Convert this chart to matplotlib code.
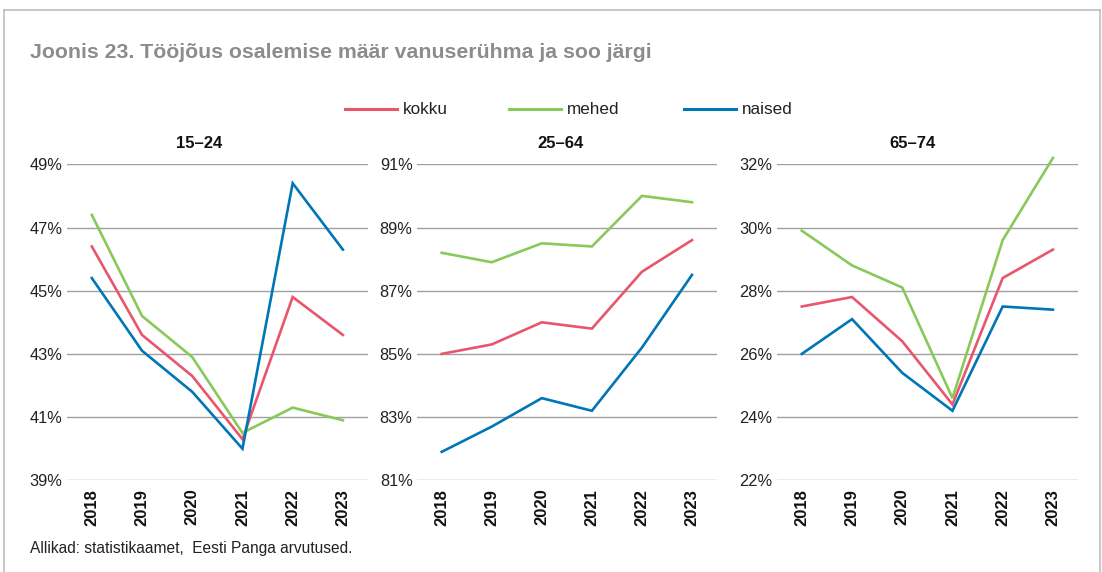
import matplotlib
matplotlib.use("Agg")
import matplotlib.pyplot as plt
from matplotlib.lines import Line2D

plt.rcParams['font.family'] = ['Liberation Sans', 'DejaVu Sans']

years = ["2018", "2019", "2020", "2021", "2022", "2023"]
series_names = ["kokku", "mehed", "naised"]
colors = ["#E8566C", "#88C95A", "#0076B6"]

panel_titles = ["15–24", "25–64", "65–74"]

# 15-24
young_kokku = [46.4, 43.6, 42.3, 40.3, 44.8, 43.6]
young_mehed = [47.4, 44.2, 42.9, 40.5, 41.3, 40.9]
young_naised = [45.4, 43.1, 41.8, 40.0, 48.4, 46.3]

# 25-64
mid_kokku = [85.0, 85.3, 86.0, 85.8, 87.6, 88.6]
mid_mehed = [88.2, 87.9, 88.5, 88.4, 90.0, 89.8]
mid_naised = [81.9, 82.7, 83.6, 83.2, 85.2, 87.5]

# 65-74
old_kokku = [27.5, 27.8, 26.4, 24.4, 28.4, 29.3]
old_mehed = [29.9, 28.8, 28.1, 24.6, 29.6, 32.2]
old_naised = [26.0, 27.1, 25.4, 24.2, 27.5, 27.4]

y_ticks = [
    [39, 41, 43, 45, 47, 49],
    [81, 83, 85, 87, 89, 91],
    [22, 24, 26, 28, 30, 32],
]

panels = [
    [young_kokku, young_mehed, young_naised],
    [mid_kokku, mid_mehed, mid_naised],
    [old_kokku, old_mehed, old_naised],
]

fig = plt.figure(figsize=(11.02, 5.72), dpi=100)
W, H = 1102, 572

def px(x, y):
    return x / W, 1 - y / H

# frame around the figure
frame = dict(transform=fig.transFigure, color="#bdbdbd", lw=1.2)
fig.add_artist(Line2D([4 / W, 4 / W], [0, 1 - 9.5 / H], **frame))
fig.add_artist(Line2D([4 / W, 1100 / W], [1 - 9.5 / H, 1 - 9.5 / H], **frame))
fig.add_artist(Line2D([1100 / W, 1100 / W], [0, 1 - 9.5 / H], **frame))

fig.text(*px(30, 53), "Joonis 23. Tööjõus osalemise määr vanuserühma ja soo järgi",
         fontsize=15.3, fontweight="bold", color="#8c8c8c", ha="left", va="center")

lefts = [66.7, 416.7, 776.7]
rights = [368, 717, 1078]
top, bottom = 164.3, 480.3
title_x = [199, 561, 912]

for i, data in enumerate(panels):
    ax = fig.add_axes([lefts[i] / W, 1 - bottom / H, (rights[i] - lefts[i]) / W, (bottom - top) / H])
    x = range(len(years))
    for vals, c in zip(data, colors):
        ax.plot(x, vals, color=c, lw=1.9, solid_joinstyle="miter", clip_on=False)
    ax.set_xlim(-0.5, len(years) - 0.5)
    ax.set_ylim(y_ticks[i][0], y_ticks[i][-1])
    ax.set_yticks(y_ticks[i])
    ax.set_yticklabels([f"{t}%" for t in y_ticks[i]], fontsize=11.8, color="#222222")
    ax.set_xticks(list(x))
    ax.set_xticklabels(years, rotation=90, fontsize=12, fontweight="bold", color="#111111")
    ax.tick_params(axis="both", length=0)
    ax.tick_params(axis="y", pad=3)
    ax.tick_params(axis="x", pad=6)
    ax.grid(axis="y", color="#a0a0a0", lw=1.0)
    ax.set_axisbelow(True)
    for s in ax.spines.values():
        s.set_visible(False)
    fig.text(*px(title_x[i], 143), panel_titles[i], fontsize=12, fontweight="bold",
             ha="center", va="center", color="#111111")

# legend, drawn by hand to match positions
legend_x = [345, 509, 684]
for lx, name, c in zip(legend_x, series_names, colors):
    fig.add_artist(Line2D([lx / W, (lx + 52) / W], [1 - 109 / H, 1 - 109 / H],
                          transform=fig.transFigure, color=c, lw=2.2))
    fig.text(*px(lx + 58, 109), name, fontsize=12.3, color="#222222", ha="left", va="center")

fig.text(*px(30, 548), "Allikad: statistikaamet,  Eesti Panga arvutused.",
         fontsize=11.2, color="#222222", ha="left", va="center")

fig.savefig("out.png", dpi=100, facecolor="white")
